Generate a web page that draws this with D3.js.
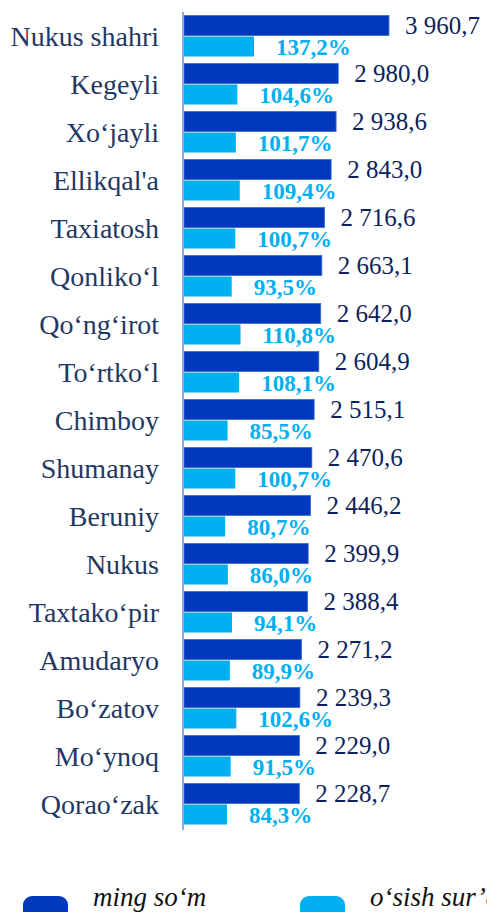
<!DOCTYPE html>
<html><head><meta charset="utf-8">
<script src="https://cdn.jsdelivr.net/npm/d3@7"></script>
</head>
<body style="margin:0;background:#fff">
<script>
const categories = ["Nukus shahri","Kegeyli","Xo‘jayli","Ellikqal'a","Taxiatosh","Qonliko‘l","Qo‘ng‘irot","To‘rtko‘l","Chimboy","Shumanay","Beruniy","Nukus","Taxtako‘pir","Amudaryo","Bo‘zatov","Mo‘ynoq","Qorao‘zak"];
const values = [3960.7,2980.0,2938.6,2843.0,2716.6,2663.1,2642.0,2604.9,2515.1,2470.6,2446.2,2399.9,2388.4,2271.2,2239.3,2229.0,2228.7];
const growth = [137.2,104.6,101.7,109.4,100.7,93.5,110.8,108.1,85.5,100.7,80.7,86.0,94.1,89.9,102.6,91.5,84.3];
const seriesNames = ["ming so‘m","o‘sish sur’ati, %"];

const W = 487, H = 912;
const FONT = '"Liberation Serif"';
const darkColor = "#0039BE", lightColor = "#00B0F0";
const svg = d3.select("body").append("svg").attr("width", W).attr("height", H).style("display", "block");

const y = d3.scaleBand().domain(categories).range([12, 828]).paddingInner(0.146).paddingOuter(0.073);
const sub = d3.scaleBand().domain(["v","p"]).range([0, y.bandwidth()]).paddingInner(0.05);
const xV = d3.scaleLinear().domain([0, 4000]).range([184, 184 + 207]);
const xP = d3.scaleLinear().domain([0, 150]).range([184, 184 + 76.5]);

const fmtV = v => { const s = v.toFixed(1).replace(".", ","); const [i, d] = s.split(","); return i.replace(/\B(?=(\d{3})+(?!\d))/g, " ") + "," + d; };
const fmtP = v => v.toFixed(1).replace(".", ",") + "%";

const data = categories.map((c, i) => ({c, v: values[i], p: growth[i]}));

const g = svg.append("g");
g.selectAll("rect.v").data(data).join("rect").attr("class","v")
  .attr("x", xV(0)).attr("y", d => y(d.c) + sub("v"))
  .attr("width", d => xV(d.v) - xV(0)).attr("height", sub.bandwidth())
  .attr("fill", darkColor).attr("stroke", "#3a66d0").attr("stroke-width", 0.8);
g.selectAll("rect.p").data(data).join("rect").attr("class","p")
  .attr("x", xP(0)).attr("y", d => y(d.c) + sub("p"))
  .attr("width", d => xP(d.p) - xP(0)).attr("height", sub.bandwidth())
  .attr("fill", lightColor);

// value labels
g.selectAll("text.v").data(data).join("text").attr("class","v")
  .attr("x", d => xV(d.v) + 16).attr("y", d => y(d.c) + sub("v") + sub.bandwidth()/2 + 8.5)
  .style("font-family", FONT).attr("font-size", 25)
  .attr("fill", "#0E1F5B").text(d => fmtV(d.v));
g.selectAll("text.p").data(data).join("text").attr("class","p")
  .attr("x", d => xP(d.p) + 22).attr("y", d => y(d.c) + sub("p") + sub.bandwidth()/2 + 8.5)
  .style("font-family", FONT).attr("font-size", 23).attr("font-weight", "bold")
  .attr("fill", lightColor).text(d => fmtP(d.p));

// axis
const axis = d3.axisLeft(y).tickSize(0).tickPadding(24);
const ag = svg.append("g").attr("transform", "translate(183,0)").call(axis);
ag.attr("font-family", null).attr("font-size", null);
ag.select(".domain").attr("stroke", "#8FA9DA").attr("stroke-width", 2).attr("d", "M0,12V830");
ag.selectAll(".tick text").style("font-family", FONT)
  .attr("font-size", 28).attr("fill", "#1F3864").attr("dy", "0.36em");

// legend
const leg = svg.append("g");
const legX = [23, 300];
seriesNames.forEach((n, i) => {
  leg.append("rect").attr("x", legX[i]).attr("y", 896).attr("width", 45).attr("height", 24).attr("rx", 9)
    .attr("fill", i === 0 ? darkColor : lightColor);
  leg.append("text").attr("x", legX[i] + 70).attr("y", 906)
    .style("font-family", FONT).attr("font-size", 27).attr("font-style", "italic")
    .attr("fill", "#111").text(n);
});
</script>
</body></html>
